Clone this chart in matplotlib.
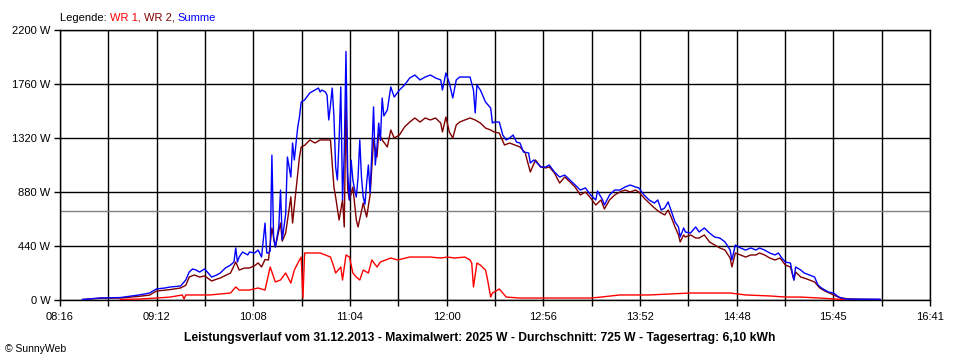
import matplotlib
matplotlib.use("Agg")
import matplotlib.pyplot as plt

plt.rcParams['font.family'] = ['Liberation Sans', 'DejaVu Sans']

# Summe (blue)
summe_t = ['08:29', '08:39', '08:51', '09:02', '09:08', '09:12', '09:17', '09:20', '09:26', '09:29',
           '09:31', '09:33', '09:35', '09:37', '09:40', '09:44', '09:47', '09:49', '09:52', '09:55',
           '09:57', '09:58', '09:59', '10:00', '10:02', '10:03', '10:05', '10:06', '10:09', '10:11',
           '10:13', '10:15', '10:16', '10:17', '10:18', '10:19', '10:20', '10:21', '10:23', '10:24',
           '10:25', '10:27', '10:28', '10:30', '10:31', '10:32', '10:34', '10:35', '10:36', '10:38',
           '10:41', '10:44', '10:46', '10:47', '10:48', '10:50', '10:51', '10:52', '10:53', '10:54',
           '10:55', '10:56', '10:57', '10:58', '10:59', '11:00', '11:01', '11:02', '11:03', '11:04',
           '11:05', '11:06', '11:07', '11:08', '11:09', '11:10', '11:11', '11:12', '11:13', '11:14',
           '11:15', '11:16', '11:17', '11:18', '11:19', '11:20', '11:21', '11:22', '11:23', '11:24',
           '11:26', '11:28', '11:30', '11:33', '11:36', '11:39', '11:42', '11:45', '11:48', '11:51',
           '11:54', '11:57', '11:58', '12:00', '12:02', '12:04', '12:06', '12:08', '12:11', '12:14',
           '12:16', '12:17', '12:18', '12:20', '12:23', '12:26', '12:27', '12:28', '12:31', '12:33',
           '12:35', '12:37', '12:39', '12:41', '12:43', '12:45', '12:48', '12:49', '12:51', '12:53',
           '12:55', '12:58', '13:00', '13:03', '13:06', '13:09', '13:12', '13:15', '13:18', '13:21',
           '13:24', '13:27', '13:28', '13:31', '13:32', '13:35', '13:38', '13:41', '13:44', '13:47',
           '13:50', '13:52', '13:55', '13:58', '14:01', '14:03', '14:05', '14:07', '14:09', '14:11',
           '14:13', '14:15', '14:16', '14:18', '14:19', '14:22', '14:25', '14:27', '14:30', '14:33',
           '14:36', '14:39', '14:42', '14:45', '14:46', '14:48', '14:51', '14:54', '14:57', '15:00',
           '15:02', '15:05', '15:08', '15:11', '15:13', '15:15', '15:17', '15:20', '15:21', '15:22',
           '15:23', '15:26', '15:28', '15:31', '15:34', '15:36', '15:38', '15:42', '15:45', '15:48',
           '15:52', '16:00', '16:12']
summe_w = [4, 16, 20, 41, 57, 90, 98, 106, 114, 163,
           228, 253, 244, 228, 253, 187, 204, 220, 261, 285,
           310, 424, 310, 350, 391, 383, 367, 391, 383, 407,
           350, 627, 383, 383, 400, 1180, 500, 432, 600, 896,
           489, 700, 1165, 1002, 1279, 1141, 1410, 1491, 1613, 1630,
           1687, 1711, 1727, 1695, 1711, 1695, 1670, 1467, 1589, 1727,
           1500, 1084, 978, 1300, 1736, 815, 1200, 2025, 1035, 815,
           1140, 978, 900, 839, 1000, 1304, 1000, 839, 780, 953,
           1100, 872, 1200, 1573, 1100, 1247, 1442, 1300, 1646, 1500,
           1548, 1736, 1654, 1711, 1752, 1809, 1833, 1793, 1817, 1833,
           1809, 1793, 1711, 1850, 1768, 1646, 1793, 1817, 1817, 1817,
           1711, 1524, 1752, 1711, 1613, 1564, 1442, 1450, 1450, 1344,
           1304, 1320, 1344, 1287, 1279, 1206, 1198, 1116, 1141, 1116,
           1084, 1084, 1100, 1043, 1002, 1018, 978, 937, 896, 913,
           856, 815, 888, 815, 774, 856, 896, 896, 921, 937,
           921, 913, 856, 815, 790, 815, 733, 750, 799, 717,
           636, 595, 513, 587, 554, 546, 595, 554, 587, 546,
           513, 505, 473, 407, 326, 448, 424, 407, 424, 407,
           424, 407, 383, 367, 383, 342, 310, 301, 228, 163,
           269, 244, 220, 204, 187, 122, 98, 65, 57, 24,
           8, 6, 6]

# WR 2 (maroon)
wr2_t = ['08:29', '08:39', '08:51', '09:02', '09:08', '09:12', '09:20', '09:26', '09:29', '09:31',
         '09:34', '09:37', '09:40', '09:44', '09:47', '09:49', '09:52', '09:55', '09:58', '10:00',
         '10:03', '10:06', '10:09', '10:11', '10:13', '10:15', '10:17', '10:19', '10:21', '10:24',
         '10:25', '10:27', '10:30', '10:31', '10:34', '10:35', '10:36', '10:38', '10:41', '10:44',
         '10:47', '10:50', '10:53', '10:55', '10:56', '10:58', '11:00', '11:01', '11:02', '11:03',
         '11:04', '11:06', '11:08', '11:09', '11:12', '11:14', '11:16', '11:18', '11:20', '11:21',
         '11:23', '11:26', '11:28', '11:30', '11:33', '11:36', '11:39', '11:42', '11:45', '11:48',
         '11:51', '11:54', '11:57', '11:58', '12:00', '12:02', '12:04', '12:06', '12:08', '12:11',
         '12:14', '12:17', '12:20', '12:23', '12:26', '12:28', '12:31', '12:34', '12:37', '12:43',
         '12:46', '12:49', '12:52', '12:55', '12:58', '13:00', '13:03', '13:06', '13:09', '13:12',
         '13:15', '13:18', '13:21', '13:24', '13:27', '13:30', '13:32', '13:35', '13:38', '13:41',
         '13:44', '13:47', '13:50', '13:52', '13:55', '13:58', '14:01', '14:04', '14:07', '14:09',
         '14:11', '14:13', '14:15', '14:16', '14:18', '14:19', '14:22', '14:25', '14:27', '14:30',
         '14:33', '14:36', '14:39', '14:42', '14:45', '14:46', '14:48', '14:51', '14:54', '14:57',
         '15:00', '15:02', '15:05', '15:08', '15:11', '15:14', '15:17', '15:20', '15:22', '15:23',
         '15:26', '15:28', '15:31', '15:34', '15:37', '15:40', '15:45', '15:49', '15:55', '16:12']
wr2_w = [4, 14, 16, 30, 40, 73, 85, 98, 120, 187,
         204, 187, 196, 155, 170, 179, 200, 220, 310, 244,
         260, 261, 280, 302, 269, 330, 326, 587, 432, 627,
         480, 546, 840, 627, 1035, 1165, 1247, 1260, 1304, 1279,
         1304, 1304, 1304, 920, 839, 652, 815, 595, 1630, 900,
         815, 920, 652, 595, 790, 676, 856, 1304, 1165, 1360,
         1304, 1247, 1385, 1320, 1344, 1410, 1450, 1483, 1450, 1483,
         1467, 1483, 1442, 1369, 1491, 1369, 1320, 1426, 1450, 1467,
         1483, 1467, 1442, 1401, 1385, 1369, 1360, 1263, 1279, 1247,
         1200, 1043, 1141, 1084, 1076, 1084, 1035, 953, 1002, 962,
         920, 856, 880, 831, 774, 815, 742, 815, 856, 880,
         896, 880, 896, 880, 831, 790, 750, 717, 693, 733,
         668, 595, 530, 473, 530, 513, 530, 505, 505, 530,
         473, 448, 424, 407, 342, 269, 383, 367, 350, 367,
         367, 383, 367, 342, 326, 342, 285, 269, 163, 228,
         187, 179, 163, 147, 98, 73, 41, 16, 8, 4]

# WR 1 (red)
wr1_t = ['08:51', '09:02', '09:12', '09:20', '09:27', '09:28', '09:29', '09:33', '09:43', '09:55',
         '09:58', '10:00', '10:06', '10:11', '10:15', '10:18', '10:21', '10:24', '10:27', '10:30',
         '10:32', '10:35', '10:36', '10:37', '10:38', '10:41', '10:47', '10:50', '10:53', '10:55',
         '10:56', '10:59', '11:00', '11:02', '11:04', '11:06', '11:08', '11:10', '11:12', '11:15',
         '11:17', '11:20', '11:22', '11:25', '11:28', '11:32', '11:39', '11:45', '11:51', '11:57',
         '12:01', '12:05', '12:11', '12:14', '12:15', '12:16', '12:18', '12:20', '12:23', '12:24',
         '12:26', '12:27', '12:30', '12:31', '12:33', '12:35', '12:43', '13:06', '13:24', '13:30',
         '13:41', '13:58', '14:22', '14:45', '14:54', '15:08', '15:17', '15:26', '15:37', '15:46',
         '15:52']
wr1_w = [4, 8, 16, 24, 41, 8, 41, 41, 41, 57,
         106, 81, 81, 98, 81, 269, 147, 163, 220, 138,
         244, 326, 350, 16, 383, 383, 383, 367, 350, 269,
         220, 269, 163, 367, 350, 220, 187, 163, 244, 220,
         326, 269, 310, 326, 342, 326, 350, 350, 350, 342,
         350, 342, 350, 326, 301, 106, 301, 285, 244, 179,
         24, 57, 81, 90, 57, 24, 16, 16, 16, 24,
         41, 41, 57, 57, 41, 33, 24, 24, 16, 8,
         2]

average_w = 725
y_ticks = [0, 440, 880, 1320, 1760, 2200]
x_labels = ['08:16', '09:12', '10:08', '11:04', '12:00', '12:56', '13:52', '14:48', '15:45', '16:41']
title = ('Leistungsverlauf vom 31.12.2013 - Maximalwert: 2025 W - '
         'Durchschnitt: 725 W - Tagesertrag: 6,10 kWh')


def to_min(s):
    h, m = s.split(':')
    return int(h) * 60 + int(m)


fig = plt.figure(figsize=(9.6, 3.6), dpi=100)
ax = fig.add_axes([60 / 960, 60 / 360, 870 / 960, 270 / 360])

ax.plot([to_min(t) for t in wr1_t], wr1_w, color='#ff0000', lw=1, zorder=3)
ax.plot([to_min(t) for t in wr2_t], wr2_w, color='#800000', lw=1, zorder=4)
ax.plot([to_min(t) for t in summe_t], summe_w, color='#0000ff', lw=1, zorder=5)
ax.axhline(average_w, color='#808080', lw=1, zorder=2)

x0, x1 = to_min(x_labels[0]), to_min(x_labels[-1])
n = 2 * (len(x_labels) - 1)
ticks = [x0 + k * (x1 - x0) / n for k in range(n + 1)]
labels = []
for k in range(n + 1):
    labels.append(x_labels[k // 2] if k % 2 == 0 else '')
ax.set_xticks(ticks)
ax.set_xticklabels(labels)
ax.set_yticks(y_ticks)
ax.set_yticklabels([f'{v} W' for v in y_ticks])
ax.set_xlim(x0, x1)
ax.set_ylim(0, 2200)

ax.grid(True, color='black', lw=1)
ax.set_axisbelow(True)
for s in ax.spines.values():
    s.set_color('black')
    s.set_linewidth(1)
ax.tick_params(length=4, width=1, labelsize=8, colors='black')
ax.tick_params(axis='x', pad=5)
ax.tick_params(axis='y', pad=3)

fig.text(0.5, 1 - 338 / 360, title, ha='center', va='center', fontsize=8.7, fontweight='bold')
fig.text(5 / 960, 1 - 349 / 360, '\u00a9 SunnyWeb', ha='left', va='center', fontsize=7.5)

# legend in coloured pieces
prev = fig.text(60 / 960, 1 - 21 / 360, 'Legende: ', ha='left', va='baseline', fontsize=8, color='black')
for txt, col in [('WR 1, ', '#ff0000'), ('WR 2, ', '#800000'), ('Summe', '#0000ff')]:
    prev = ax.annotate(txt, xy=(1, 0), xycoords=prev, ha='left', va='bottom',
                       fontsize=8, color=col, annotation_clip=False)

fig.savefig('out.png', dpi=100)
